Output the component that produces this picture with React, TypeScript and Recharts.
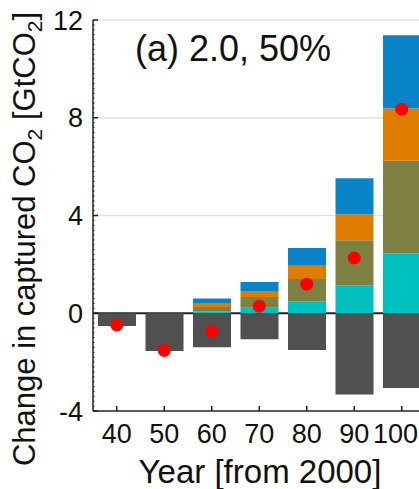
import { Bar, CartesianGrid, ComposedChart, Line, XAxis, YAxis } from "recharts";

const years = ["40", "50", "60", "70", "80", "90", "100"];
const cyan = [0, 0, 0.08, 0.23, 0.49, 1.15, 2.44];
const olive = [0, 0, 0.18, 0.44, 0.91, 1.84, 3.8];
const orange = [0, 0, 0.16, 0.24, 0.54, 1.06, 2.14];
const blue = [0, 0, 0.18, 0.37, 0.73, 1.47, 3.0];
const gray = [-0.52, -1.54, -1.39, -1.06, -1.5, -3.32, -3.06];
const net = [-0.48, -1.52, -0.74, 0.29, 1.19, 2.26, 8.35];
const majorTicks = [-4, 0, 4, 8, 12];
const gridValues = [4, 8, 12];
const zeroLine = [0];

// minor ticks every 0.2 between the major ones
const allTicks: number[] = [];
for (let i = 0; i <= 80; i++) allTicks.push(Math.round((-4 + i * 0.2) * 10) / 10);

const data = years.map((year, i) => ({
  year,
  cyan: cyan[i],
  olive: olive[i],
  orange: orange[i],
  blue: blue[i],
  gray: gray[i],
  net: net[i],
}));

const FONT = "'Liberation Sans', Arial, Helvetica, sans-serif";
const AXIS = "#222";

function XTick({ x, y, payload }: any) {
  // keep the last label inside the picture, like the original
  const half = String(payload.value).length * 7.5;
  const overflow = x + half > 418;
  return (
    <g>
      <line x1={x} x2={x} y1={y} y2={y - 5} stroke={AXIS} strokeWidth={1.5} />
      <text
        x={overflow ? 418 : x}
        y={y + 32}
        textAnchor={overflow ? "end" : "middle"}
        fontSize={27}
        fontFamily={FONT}
        fill="#111"
      >
        {payload.value}
      </text>
    </g>
  );
}

function YTick({ x, y, payload }: any) {
  const major = majorTicks.includes(payload.value);
  return (
    <g>
      <line x1={x} x2={x + (major ? 5 : 1.5)} y1={y} y2={y} stroke={AXIS} strokeWidth={major ? 1.5 : 1} />
      {major && (
        <text x={x - 10} y={y + 9.5} textAnchor="end" fontSize={27} fontFamily={FONT} fill="#111">
          {payload.value}
        </text>
      )}
    </g>
  );
}

export default function App() {
  return (
    <div style={{ position: "absolute", left: 0, top: 0, width: 419, height: 489, overflow: "hidden", background: "#fff" }}>
      <ComposedChart
        width={440}
        height={489}
        data={data}
        stackOffset="sign"
        margin={{ top: 20, right: 14.5, left: 0, bottom: 0 }}
      >
        <CartesianGrid vertical={false} horizontalValues={gridValues} stroke="#e3e3e3" strokeWidth={1.5} />
        <CartesianGrid vertical={false} horizontalValues={zeroLine} stroke={AXIS} strokeWidth={2} />
        <XAxis
          dataKey="year"
          height={78}
          tickSize={0}
          tickMargin={0}
          tickLine={false}
          axisLine={{ stroke: AXIS, strokeWidth: 1.5 }}
          tick={<XTick />}
          interval={0}
        />
        <YAxis
          width={93}
          domain={[-4, 12]}
          ticks={allTicks}
          interval={0}
          tickSize={0}
          tickMargin={0}
          tickLine={false}
          axisLine={{ stroke: AXIS, strokeWidth: 1.5 }}
          tick={<YTick />}
          allowDataOverflow
        />
        <Bar dataKey="cyan" stackId="a" fill="#00bfbf" barSize={38} isAnimationActive={false} />
        <Bar dataKey="olive" stackId="a" fill="#808042" barSize={38} isAnimationActive={false} />
        <Bar dataKey="orange" stackId="a" fill="#de7c00" barSize={38} isAnimationActive={false} />
        <Bar dataKey="blue" stackId="a" fill="#0a84c8" barSize={38} isAnimationActive={false} />
        <Bar dataKey="gray" stackId="a" fill="#505050" barSize={38} isAnimationActive={false} />
        <Line
          dataKey="net"
          stroke="none"
          dot={{ r: 6.5, fill: "#ff0000", stroke: "none" }}
          activeDot={false}
          isAnimationActive={false}
        />
      </ComposedChart>
      <svg width={419} height={489} style={{ position: "absolute", left: 0, top: 0, pointerEvents: "none" }}>
        <text x={135} y={61} fontSize={36} fontFamily={FONT} fill="#111">
          (a) 2.0, 50%
        </text>
        <text x={260} y={483} textAnchor="middle" fontSize={33} fontFamily={FONT} fill="#111">
          Year [from 2000]
        </text>
        <text
          x={35}
          y={239}
          textAnchor="middle"
          fontSize={31}
          fontFamily={FONT}
          fill="#111"
          transform="rotate(-90 35 239)"
        >
          Change in captured CO
          <tspan fontSize={21} dy={7}>2</tspan>
          <tspan dy={-7}> [GtCO</tspan>
          <tspan fontSize={21} dy={7}>2</tspan>
          <tspan dy={-7}>]</tspan>
        </text>
      </svg>
    </div>
  );
}
